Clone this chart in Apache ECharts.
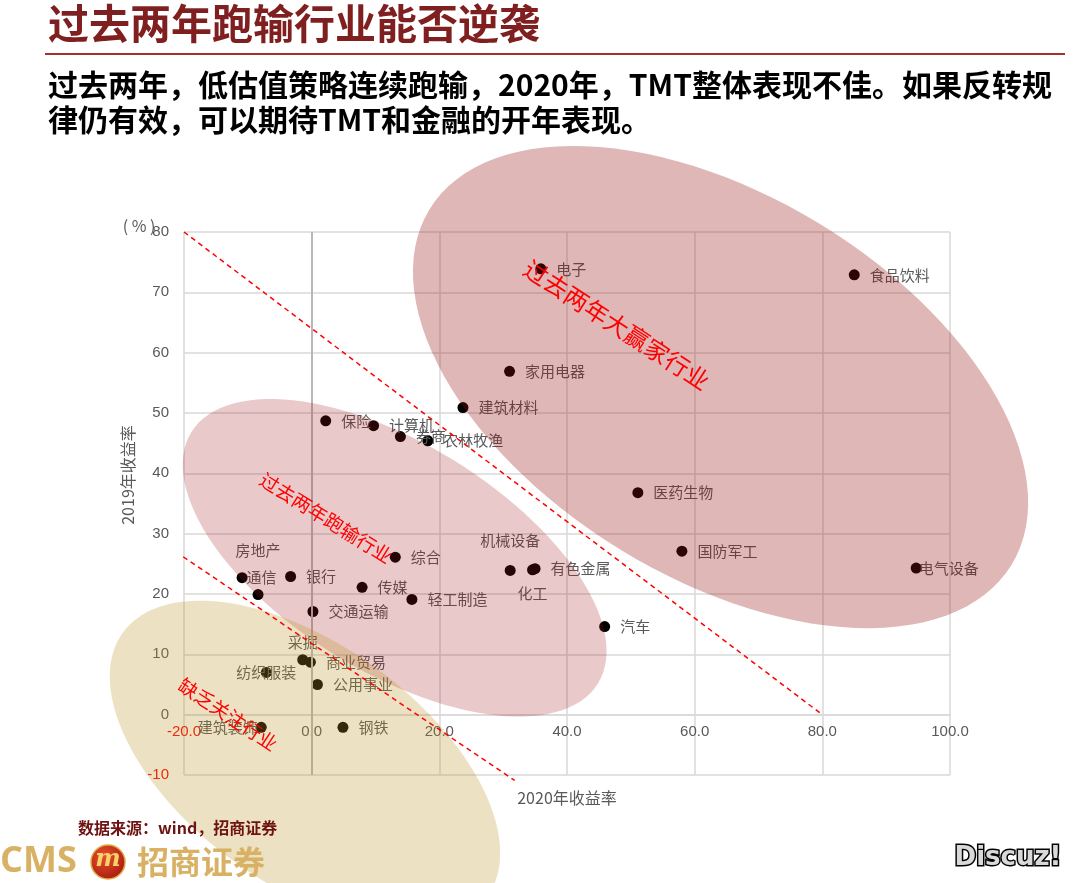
<!DOCTYPE html>
<html><head><meta charset="utf-8">
<script src="https://cdn.jsdelivr.net/npm/echarts/dist/echarts.min.js"></script>
<style>html,body{margin:0;padding:0;background:#fff}#c{width:1080px;height:883px}</style>
</head><body><div id="c"></div>
<script>
// ---- data ----
const industries = ['电子','食品饮料','家用电器','建筑材料','保险','计算机','券商','农林牧渔','医药生物','国防军工','电气设备','综合','机械设备','有色金属','化工','汽车','通信','银行','房地产','传媒','轻工制造','交通运输','采掘','商业贸易','纺织服装','公用事业','建筑装饰','钢铁'];
const ret2020 = [35.9,85.0,31.0,23.7,2.2,9.7,13.9,18.2,51.1,58.0,94.7,13.1,31.1,35.0,34.6,45.9,-10.9,-3.3,-8.4,7.9,15.7,0.2,-1.4,-0.2,-7.1,0.9,-7.9,4.9];
const ret2019 = [73.9,72.9,56.9,50.9,48.7,47.9,46.1,45.4,36.8,27.1,24.3,26.1,23.9,24.2,24.0,14.6,22.7,22.9,19.9,21.1,19.1,17.1,9.1,8.7,7.0,5.0,-2.1,-2.1];
const xRange = [-20, 100, 20];
const yRange = [-10, 80, 10];
const upperDivider = [[-20, 80], [80, 0]];
const lowerDivider = [[-21.3, 27.0], [31.8, -10.9]];

// label placement tweaks (presentation only)
const labelTweaks = {
  '房地产': {position:'top', distance:31},
  '通信': {distance:-1},
  '采掘': {position:'top', distance:4, offset:[-4,0]},
  '纺织服装': {position:'inside', offset:[-5,-6]},
  '建筑装饰': {position:'left', distance:-2, offset:[0,-10]},
  '机械设备': {position:'top', distance:17, offset:[9,0]},
  '化工': {position:'bottom', distance:10, offset:[18,0]},
  '电气设备': {distance:-3},
  '计算机': {offset:[0,-3]}
};

const chart = echarts.init(document.getElementById('c'), null, {renderer:'canvas'});
const grey = '#595959';
const CJK = '"Noto Sans CJK SC"';
const gridBox = {left:184, right:130, top:232, bottom:108};
const gridH = 883 - gridBox.top - gridBox.bottom;
// x axis sits on y = 0 (like the reference): shift it up from the bottom edge
const xAxisShift = -gridH * (0 - yRange[0]) / (yRange[1] - yRange[0]);

const points = industries.map((n,i)=>{
  const d = {name:n, value:[ret2020[i], ret2019[i]]};
  if (labelTweaks[n]) d.label = labelTweaks[n];
  return d;
});

const option = {
  animation:false,
  backgroundColor:'#fff',
  grid:Object.assign({containLabel:false}, gridBox),
  xAxis:{
    type:'value', min:xRange[0], max:xRange[1], interval:xRange[2],
    position:'bottom', offset:xAxisShift,
    axisLine:{show:true, onZero:false, lineStyle:{color:'#d9d9d9', width:1.5}},
    axisTick:{show:false},
    axisLabel:{margin:10, fontSize:15, fontFamily:'"Liberation Sans", Arial',
      formatter:v=>Number(v).toFixed(1),
      color:v=>Number(v)===-20?'#ff0000':grey},
    splitLine:{show:true, lineStyle:{color:'#d9d9d9', width:1.5}}
  },
  yAxis:{
    type:'value', min:yRange[0], max:yRange[1], interval:yRange[2],
    axisLine:{show:false, onZero:false},
    axisTick:{show:false},
    axisLabel:{margin:15, fontSize:15, fontFamily:'"Liberation Sans", Arial',
      color:v=>Number(v)===-10?'#ff0000':grey},
    splitLine:{show:true, lineStyle:{color:'#d9d9d9', width:1.5}}
  },
  series:[
    {
      type:'scatter', data:points, symbolSize:11, z:2,
      itemStyle:{color:'#000', opacity:1},
      label:{show:true, position:'right', distance:10, formatter:'{b}', color:grey, fontSize:15, fontFamily:CJK},
      labelLayout:{hideOverlap:false},
      markLine:{silent:true, symbol:['none','none'], label:{show:false},
        lineStyle:{color:'#b8b8b8', width:2, type:'solid'}, data:[{xAxis:0}]}
    },
    {type:'line', data:upperDivider, showSymbol:false, symbol:'none', clip:false, silent:true, z:10,
      lineStyle:{color:'#ff0000', width:1.5, type:[5,4]}},
    {type:'line', data:lowerDivider, showSymbol:false, symbol:'none', clip:false, silent:true, z:10,
      lineStyle:{color:'#ff0000', width:1.5, type:[5,4]}}
  ]
};
chart.setOption(option);

// ---- annotation shapes (centres anchored to data coords) ----
const ellipses = [
  {center:[64.05, 54.3], a:341, b:191, deg:31.4, fill:'rgba(150,17,17,0.30)'},
  {center:[13.0, 26.0], a:239, b:114, deg:31.75, fill:'rgba(160,20,28,0.23)'},
  {center:[-1.05, -8.3], a:225, b:120, deg:36, fill:'rgba(185,149,36,0.28)'}
];
const notes = [
  {text:'过去两年大赢家行业', at:[47.8, 64.6], deg:33, size:24},
  {text:'过去两年跑输行业', at:[2.25, 32.6], deg:32, size:19},
  {text:'缺乏关注行业', at:[-13.1, 0.03], deg:33.6, size:19}
];
function px(p){ return chart.convertToPixel({gridIndex:0}, p); }
function ellipsePts(c, a, b, deg){
  const t = deg*Math.PI/180, ct=Math.cos(t), st=Math.sin(t), pts=[];
  for (let k=0;k<120;k++){
    const u = k/120*2*Math.PI;
    pts.push([c[0]+a*Math.cos(u)*ct - b*Math.sin(u)*st, c[1]+a*Math.cos(u)*st + b*Math.sin(u)*ct]);
  }
  return pts;
}
function txt(text, x, y, font, fill, opts){
  return Object.assign({type:'text', x:x, y:y, silent:true, z:20,
    style:Object.assign({text:text, font:font, fill:fill, textAlign:'left', textVerticalAlign:'middle', align:'left', verticalAlign:'middle'}, (opts&&opts.style)||{})},
    opts?{rotation:opts.rotation||0}:{});
}
const g = [];
ellipses.forEach(e=>{
  g.push({type:'polygon', silent:true, z:5, shape:{points:ellipsePts(px(e.center), e.a, e.b, e.deg)}, style:{fill:e.fill}});
});
notes.forEach(n=>{
  const p = px(n.at);
  g.push(txt(n.text, p[0], p[1], n.size+'px '+CJK, '#ff0000', {rotation:-n.deg*Math.PI/180, style:{textAlign:'center', align:'center'}}));
});
// titles and texts
g.push(txt('过去两年跑输行业能否逆袭', 48, 23, 'bold 41px '+CJK, '#7f1f1f'));
g.push({type:'rect', silent:true, z:20, shape:{x:45, y:53, width:1020, height:2}, style:{fill:'#a3302f'}});
g.push(txt('过去两年，低估值策略连续跑输，2020年，TMT整体表现不佳。如果反转规', 48, 85, 'bold 30px '+CJK, '#000'));
g.push(txt('律仍有效，可以期待TMT和金融的开年表现。', 48, 120, 'bold 30px '+CJK, '#000'));
g.push(txt('( % )', 139, 226, '16px '+CJK, grey, {style:{textAlign:'center', align:'center'}}));
g.push(txt('2019年收益率', 128, 475, '16px '+CJK, grey, {rotation:Math.PI/2, style:{textAlign:'center', align:'center'}}));
g.push(txt('2020年收益率', 567, 798, '16px '+CJK, grey, {style:{textAlign:'center', align:'center'}}));
g.push(txt('数据来源：wind，招商证券', 78, 828, 'bold 16px '+CJK, '#6e1212'));
g.push(txt('CMS', 0, 862, 'bold 36px "Open Sans"', '#d8b165'));
g.push({type:'circle', silent:true, z:20, shape:{cx:108, cy:862, r:17},
  style:{fill:{type:'radial', x:0.4, y:0.35, r:0.7, colorStops:[{offset:0,color:'#e8502a'},{offset:1,color:'#a51a10'}]}, stroke:'#e0a840', lineWidth:1.5}});
g.push(txt('m', 108, 860, 'bold italic 24px "DejaVu Serif"', '#f6d36a', {style:{textAlign:'center', align:'center'}}));
g.push(txt('招商证券', 137, 862, 'bold 32px '+CJK, '#d8b165'));
g.push(txt('Discuz!', 1008, 858, 'bold 26px "DejaVu Sans"', '#d9d9d9', {style:{textAlign:'center', align:'center', stroke:'#000', lineWidth:3}}));

chart.setOption({graphic:g});
</script>
</body></html>
